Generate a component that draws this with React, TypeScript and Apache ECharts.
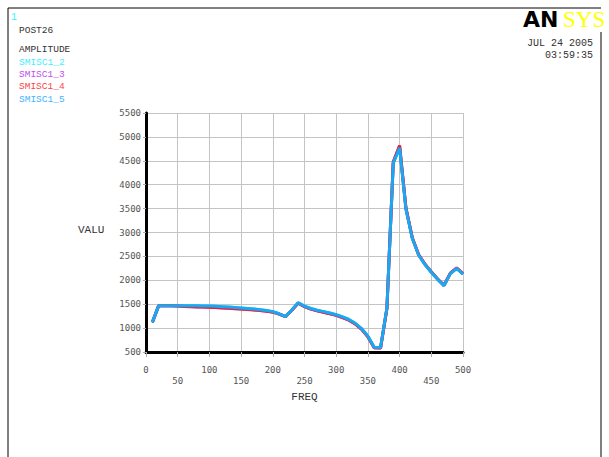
import React, { useEffect, useRef } from "react";
import * as echarts from "echarts";

// Frequency sweep (Hz)
const freq = [
  10, 20, 30, 40, 50, 60, 70, 80, 90, 100,
  110, 120, 130, 140, 150, 160, 170, 180, 190, 200,
  210, 220, 230, 240, 250, 260, 270, 280, 290, 300,
  310, 320, 330, 340, 350, 360, 370, 380, 390, 400,
  410, 420, 430, 440, 450, 460, 470, 480, 490, 500,
];

// Amplitude responses
const smisc1_2 = [
  1120, 1470, 1470, 1470, 1470, 1470, 1468, 1466, 1464, 1460,
  1455, 1448, 1440, 1430, 1420, 1410, 1398, 1385, 1368, 1345,
  1300, 1240, 1380, 1530, 1460, 1410, 1375, 1345, 1315, 1280,
  1235, 1180, 1100, 990, 830, 600, 595, 1420, 4450, 4780,
  3500, 2880, 2530, 2330, 2170, 2020, 1890, 2140, 2250, 2130,
];
const smisc1_3 = [
  1120, 1470, 1470, 1468, 1462, 1455, 1450, 1446, 1442, 1438,
  1432, 1425, 1418, 1410, 1400, 1392, 1382, 1370, 1355, 1335,
  1295, 1240, 1375, 1525, 1450, 1398, 1362, 1332, 1302, 1268,
  1222, 1168, 1088, 978, 818, 590, 585, 1410, 4470, 4810,
  3510, 2890, 2535, 2335, 2175, 2025, 1895, 2145, 2255, 2135,
];
const smisc1_4 = [
  1120, 1470, 1470, 1466, 1460, 1452, 1447, 1443, 1439, 1435,
  1429, 1422, 1415, 1407, 1398, 1390, 1380, 1368, 1353, 1333,
  1293, 1238, 1372, 1522, 1448, 1396, 1360, 1330, 1300, 1266,
  1220, 1166, 1086, 976, 816, 588, 583, 1408, 4480, 4820,
  3515, 2892, 2538, 2338, 2178, 2028, 1898, 2148, 2258, 2138,
];
const smisc1_5 = [
  1120, 1470, 1470, 1470, 1470, 1470, 1468, 1466, 1464, 1460,
  1455, 1448, 1440, 1430, 1420, 1410, 1398, 1385, 1368, 1345,
  1300, 1240, 1380, 1530, 1460, 1410, 1375, 1345, 1315, 1280,
  1235, 1180, 1100, 990, 830, 600, 595, 1420, 4450, 4770,
  3490, 2880, 2530, 2330, 2170, 2020, 1890, 2140, 2250, 2130,
];

const seriesNames = ["SMISC1_2", "SMISC1_3", "SMISC1_4", "SMISC1_5"];
const seriesColors = ["#33e6ff", "#c23cf0", "#ee1c34", "#1aa8f0"];
const legendColors = ["#3ff0ff", "#c050f0", "#ff4444", "#44b4ff"];
const seriesData = [smisc1_2, smisc1_3, smisc1_4, smisc1_5];

const headerLines = ["POST26", "AMPLITUDE"];
const dateLines = ["JUL 24 2005", "03:59:35"];

const MONO = "Liberation Mono";
const TICK_FONT = "DejaVu Sans Mono";

export default function App() {
  const ref = useRef<HTMLDivElement>(null);

  useEffect(() => {
    document.body.style.margin = "0";
    const chart = echarts.init(ref.current!, undefined, { renderer: "svg" });

    const monoText = (text: string, fill: string, size: number) => ({
      text,
      fill,
      fontFamily: MONO,
      fontSize: size,
      fontWeight: "normal",
    });

    const legendTexts = seriesNames.map((name, i) => ({
      type: "text",
      left: 19,
      top: 57 + i * 12.4,
      style: monoText(name, legendColors[i], 9.5),
    }));

    chart.setOption({
      animation: false,
      backgroundColor: "#ffffff",
      grid: { left: 146, top: 113, right: 146, bottom: 105, containLabel: false },
      xAxis: {
        type: "value",
        min: 0,
        max: 500,
        interval: 50,
        name: "FREQ",
        nameLocation: "middle",
        nameGap: 36,
        nameTextStyle: { color: "#333", fontFamily: MONO, fontSize: 11 },
        axisLine: { show: true, onZero: false, lineStyle: { color: "#000", width: 3 } },
        axisTick: { show: true, length: 5, lineStyle: { color: "#aaa" } },
        axisLabel: {
          color: "#555",
          fontFamily: TICK_FONT,
          fontSize: 9,
          margin: 12,
          lineHeight: 11.5,
          verticalAlign: "top",
          showMinLabel: true,
          showMaxLabel: true,
          formatter: (v: number) => (v % 100 === 0 ? String(v) : "\n" + v),
        },
        splitLine: { show: true, lineStyle: { color: "#c4c4c4", width: 1 } },
      },
      yAxis: {
        type: "value",
        min: 500,
        max: 5500,
        interval: 500,
        axisLine: { show: true, onZero: false, lineStyle: { color: "#000", width: 3 } },
        axisTick: { show: true, length: 3, lineStyle: { color: "#aaa" } },
        axisLabel: {
          color: "#555",
          fontFamily: TICK_FONT,
          fontSize: 9,
          margin: 5,
          formatter: (v: number) => String(v),
        },
        splitLine: { show: true, lineStyle: { color: "#c4c4c4", width: 1 } },
      },
      series: seriesNames.map((name, i) => ({
        name,
        type: "line",
        data: freq.map((f, j) => [f, seriesData[i][j]]),
        showSymbol: false,
        lineStyle: { color: seriesColors[i], width: 3 },
        itemStyle: { color: seriesColors[i] },
        z: 2 + i,
      })),
      graphic: [
        // page frame
        { type: "line", shape: { x1: 8, y1: 8, x2: 601, y2: 8 }, style: { stroke: "#000", lineWidth: 1 } },
        { type: "line", shape: { x1: 8, y1: 8, x2: 8, y2: 457 }, style: { stroke: "#000", lineWidth: 1 } },
        { type: "line", shape: { x1: 601, y1: 32, x2: 601, y2: 457 }, style: { stroke: "#000", lineWidth: 1 } },
        // plot number
        { type: "text", left: 11, top: 12, style: monoText("1", "#3ff0ff", 10) },
        ...headerLines.map((t, i) => ({
          type: "text",
          left: 19,
          top: i === 0 ? 25 : 44,
          style: monoText(t, "#333", 9.5),
        })),
        ...legendTexts,
        // date / time stamp
        ...dateLines.map((t, i) => ({
          type: "text",
          right: 16,
          top: 38 + i * 12,
          style: { ...monoText(t, "#333", 10), textAlign: "right" },
        })),
        // ANSYS wordmark
        {
          type: "text",
          left: 523,
          top: 8,
          style: { text: "AN", fill: "#000", fontFamily: "DejaVu Sans", fontWeight: 900, fontSize: 22 },
        },
        {
          type: "text",
          left: 563,
          top: 8,
          style: { text: "SYS", fill: "#ffff00", fontFamily: "Liberation Serif", fontSize: 23 },
        },
        // y-axis title
        {
          type: "text",
          left: 78,
          top: 224,
          style: monoText("VALU", "#333", 11),
        },
      ],
    });

    return () => chart.dispose();
  }, []);

  return (
    <div
      ref={ref}
      style={{ position: "absolute", left: 0, top: 0, width: 609, height: 457 }}
    />
  );
}
